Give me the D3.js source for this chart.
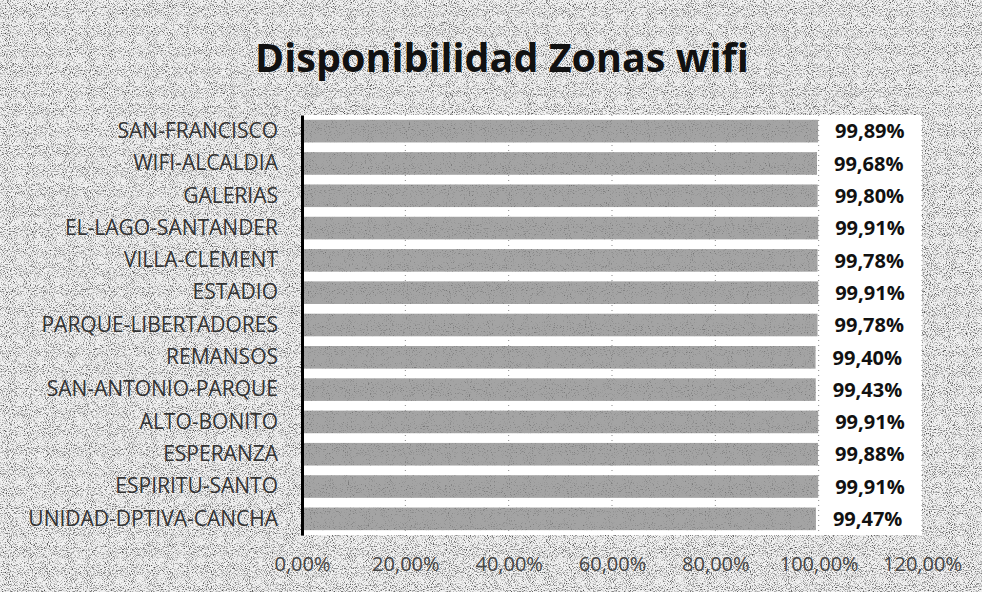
<!DOCTYPE html>
<html>
<head>
<meta charset="utf-8">
<script src="https://cdn.jsdelivr.net/npm/d3@7"></script>
<style>
  html, body { margin: 0; padding: 0; background: #ffffff; }
  svg { display: block; }
</style>
</head>
<body>
<div id="chart"></div>
<script>
// Availability per wifi zone (fraction of time online)
const zones = [
  "SAN-FRANCISCO", "WIFI-ALCALDIA", "GALERIAS", "EL-LAGO-SANTANDER",
  "VILLA-CLEMENT", "ESTADIO", "PARQUE-LIBERTADORES", "REMANSOS",
  "SAN-ANTONIO-PARQUE", "ALTO-BONITO", "ESPERANZA", "ESPIRITU-SANTO",
  "UNIDAD-DPTIVA-CANCHA"
];
const availability = [
  0.9989, 0.9968, 0.9980, 0.9991,
  0.9978, 0.9991, 0.9978, 0.9940,
  0.9943, 0.9991, 0.9988, 0.9991,
  0.9947
];
const xTicks = [0, 0.2, 0.4, 0.6, 0.8, 1.0, 1.2];
const title = "Disponibilidad Zonas wifi";

const W = 982, H = 592;
const plot = { left: 302, right: 922, top: 115, bottom: 535 };

const pct = v => (v * 100).toFixed(2).replace(".", ",") + "%";

const svg = d3.select("#chart").append("svg")
  .attr("width", W).attr("height", H);

// speckled paper texture
const defs = svg.append("defs");
function speckle(id, seed, cut) {
  const f = defs.append("filter").attr("id", id)
    .attr("x", 0).attr("y", 0).attr("width", "100%").attr("height", "100%");
  f.append("feTurbulence").attr("type", "fractalNoise")
    .attr("baseFrequency", 0.95).attr("numOctaves", 2).attr("seed", seed).attr("result", "noise");
  f.append("feColorMatrix").attr("in", "noise").attr("type", "matrix")
    .attr("values", `0 0 0 0 0  0 0 0 0 0  0 0 0 0 0  3 0 0 0 ${cut}`);
}
speckle("grain", 7, -1.45);
speckle("grainFine", 11, -1.75);

svg.append("rect").attr("width", W).attr("height", H).attr("fill", "#f1f1f1");
svg.append("rect").attr("width", W).attr("height", H)
  .attr("fill", "#000").attr("filter", "url(#grain)").attr("opacity", 0.7);

// plot area
svg.append("rect")
  .attr("x", plot.left).attr("y", plot.top)
  .attr("width", plot.right - plot.left).attr("height", plot.bottom - plot.top)
  .attr("fill", "#ffffff");

const x = d3.scaleLinear().domain([0, 1.2]).range([plot.left, plot.right]);
const y = d3.scaleBand().domain(zones).range([plot.top, plot.bottom])
  .paddingInner(0.3).paddingOuter(0.15);

// dotted vertical gridlines
svg.append("g")
  .selectAll("line")
  .data(xTicks.slice(1))
  .join("line")
  .attr("x1", d => x(d)).attr("x2", d => x(d))
  .attr("y1", plot.top).attr("y2", plot.bottom)
  .attr("stroke", "#8a8a8a").attr("stroke-width", 1)
  .attr("stroke-dasharray", "1,4");

// bars
const clip = defs.append("clipPath").attr("id", "barsClip");
clip.selectAll("rect")
  .data(zones)
  .join("rect")
  .attr("x", x(0))
  .attr("y", d => y(d))
  .attr("width", (d, i) => x(availability[i]) - x(0))
  .attr("height", y.bandwidth());

svg.append("g")
  .selectAll("rect")
  .data(zones)
  .join("rect")
  .attr("x", x(0))
  .attr("y", d => y(d))
  .attr("width", (d, i) => x(availability[i]) - x(0))
  .attr("height", y.bandwidth())
  .attr("fill", "#a4a4a4");

// halftone texture on the bars
svg.append("g").attr("clip-path", "url(#barsClip)")
  .append("rect")
  .attr("x", 0).attr("y", 0).attr("width", W).attr("height", H)
  .attr("fill", "#000").attr("filter", "url(#grainFine)").attr("opacity", 0.35);

// value labels
svg.append("g")
  .selectAll("text")
  .data(zones)
  .join("text")
  .attr("x", (d, i) => x(availability[i]) + 17)
  .attr("y", d => y(d) + y.bandwidth() / 2)
  .attr("dy", "0.36em")
  .attr("font-family", "'Open Sans', sans-serif")
  .attr("font-weight", 700)
  .attr("font-size", 20)
  .attr("fill", "#111")
  .text((d, i) => pct(availability[i]));

// category axis
const yAxis = svg.append("g")
  .attr("transform", `translate(${plot.left},0)`)
  .call(d3.axisLeft(y).tickSize(0).tickPadding(24));
yAxis.select(".domain").attr("stroke", "#000").attr("stroke-width", 3);
yAxis.selectAll("text")
  .attr("font-family", "'Open Sans', sans-serif")
  .attr("font-size", 21)
  .attr("fill", "#333");

// value axis (labels only)
const xAxis = svg.append("g")
  .attr("transform", `translate(0,${plot.bottom})`)
  .call(d3.axisBottom(x).tickValues(xTicks).tickFormat(pct).tickSize(0).tickPadding(22));
xAxis.select(".domain").remove();
xAxis.selectAll("text")
  .attr("font-family", "'Open Sans', sans-serif")
  .attr("font-size", 20)
  .attr("fill", "#444");

// title
svg.append("text")
  .attr("x", 502).attr("y", 72)
  .attr("text-anchor", "middle")
  .attr("font-family", "'Open Sans', sans-serif")
  .attr("font-weight", 700)
  .attr("font-size", 39.5)
  .attr("fill", "#111")
  .text(title);
</script>
</body>
</html>
